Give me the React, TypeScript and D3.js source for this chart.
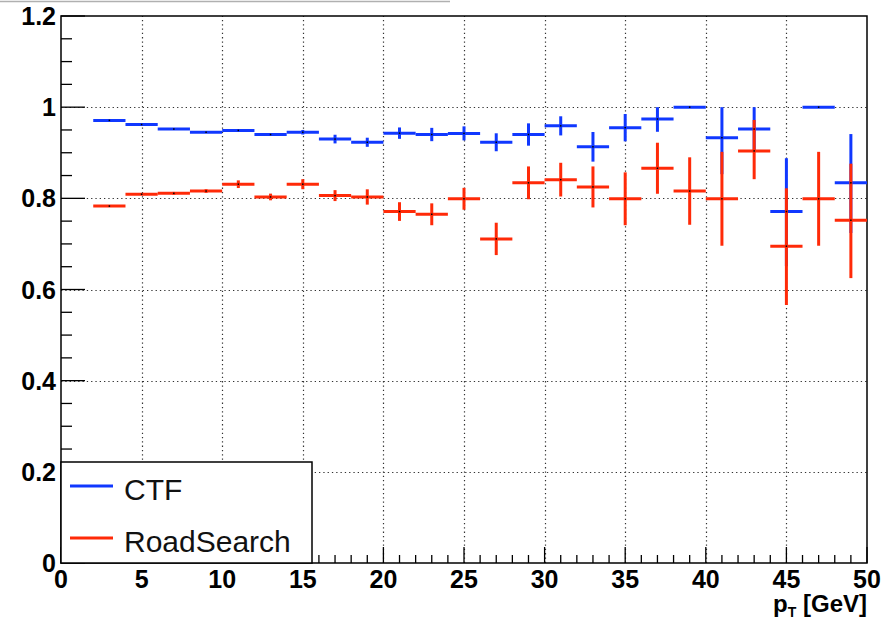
import React, { useRef, useEffect } from "react";
import * as d3 from "d3";

const W = 896;
const H = 621;
const plot = { left: 61, right: 867, top: 16, bottom: 563 };

// bin centres (bin width 2 GeV)
const binCenters = [3, 5, 7, 9, 11, 13, 15, 17, 19, 21, 23, 25, 27, 29, 31, 33, 35, 37, 39, 41, 43, 45, 47, 49];
const binHalfWidth = 1;

const ctfValues = [0.971, 0.962, 0.952, 0.945, 0.949, 0.94, 0.945, 0.93, 0.923, 0.943, 0.94, 0.9425, 0.923, 0.94, 0.959, 0.913, 0.955, 0.974, 1.0, 0.933, 0.952, 0.771, 1.0, 0.834];
const ctfErrUp = [0.001, 0.001, 0.001, 0.001, 0.003, 0.003, 0.005, 0.0095, 0.01, 0.0125, 0.0146, 0.0154, 0.0197, 0.0245, 0.021, 0.0325, 0.03, 0.026, 0, 0.067, 0.048, 0.117, 0, 0.107];
const ctfErrDown = [0.001, 0.001, 0.001, 0.001, 0.003, 0.003, 0.005, 0.0095, 0.01, 0.0125, 0.0146, 0.0154, 0.0197, 0.0245, 0.021, 0.0325, 0.03, 0.028, 0, 0.08, 0.05, 0.12, 0, 0.11];

const rsValues = [0.783, 0.809, 0.811, 0.816, 0.831, 0.803, 0.831, 0.806, 0.803, 0.771, 0.765, 0.799, 0.711, 0.834, 0.841, 0.825, 0.799, 0.866, 0.816, 0.799, 0.904, 0.695, 0.799, 0.752];
const rsErrUp = [0.001, 0.001, 0.003, 0.004, 0.0084, 0.0073, 0.011, 0.012, 0.0168, 0.0205, 0.024, 0.024, 0.0355, 0.036, 0.037, 0.045, 0.058, 0.056, 0.074, 0.103, 0.068, 0.127, 0.103, 0.124];
const rsErrDown = [0.001, 0.001, 0.003, 0.004, 0.0084, 0.0073, 0.011, 0.012, 0.0168, 0.0205, 0.024, 0.024, 0.0355, 0.036, 0.037, 0.045, 0.058, 0.056, 0.074, 0.103, 0.062, 0.129, 0.103, 0.127];

const xTicks = [0, 5, 10, 15, 20, 25, 30, 35, 40, 45, 50];
const yTicks = [0, 0.2, 0.4, 0.6, 0.8, 1, 1.2];
const yTickLabels = ["0", "0.2", "0.4", "0.6", "0.8", "1", "1.2"];

const series = [
  { name: "CTF", color: "#1038ff", values: ctfValues, up: ctfErrUp, down: ctfErrDown },
  { name: "RoadSearch", color: "#ff2a08", values: rsValues, up: rsErrUp, down: rsErrDown },
];

const font = "'Liberation Sans', Arial, sans-serif";

function draw(el: SVGSVGElement) {
  const svg = d3.select(el);
  svg.selectAll("*").remove();

  const x = d3.scaleLinear().domain([0, 50]).range([plot.left, plot.right]);
  const y = d3.scaleLinear().domain([0, 1.2]).range([plot.bottom, plot.top]);

  svg.append("rect").attr("width", W).attr("height", H).attr("fill", "white");

  // thin grey line left over from the title pad
  svg.append("line")
    .attr("x1", 0).attr("x2", 450).attr("y1", 1.5).attr("y2", 1.5)
    .attr("stroke", "#b0b0b0").attr("stroke-width", 1.5);

  // dotted grid
  const grid = svg.append("g")
    .attr("stroke", "#333")
    .attr("stroke-width", 1.2)
    .attr("stroke-dasharray", "1.3,3");
  grid.selectAll("line.gx")
    .data(xTicks.filter((t) => t > 0 && t < 50))
    .enter().append("line")
    .attr("x1", (d) => Math.round(x(d)) + 0.5).attr("x2", (d) => Math.round(x(d)) + 0.5)
    .attr("y1", plot.bottom).attr("y2", plot.top);
  grid.selectAll("line.gy")
    .data(yTicks.filter((t) => t > 0 && t < 1.2))
    .enter().append("line")
    .attr("y1", (d) => Math.round(y(d)) + 0.5).attr("y2", (d) => Math.round(y(d)) + 0.5)
    .attr("x1", plot.left).attr("x2", plot.right);

  // frame
  svg.append("rect")
    .attr("x", plot.left).attr("y", plot.top)
    .attr("width", plot.right - plot.left).attr("height", plot.bottom - plot.top)
    .attr("fill", "none").attr("stroke", "#000").attr("stroke-width", 1.5);

  // ticks
  const ticks = svg.append("g").attr("stroke", "#000").attr("stroke-width", 1.3);
  const yMinor = d3.range(0, 1.2001, 0.05);
  ticks.selectAll("line.yt")
    .data(yMinor)
    .enter().append("line")
    .attr("x1", plot.left)
    .attr("x2", (d) => plot.left + (Math.abs(d / 0.2 - Math.round(d / 0.2)) < 1e-6 ? 24 : 11))
    .attr("y1", (d) => y(d)).attr("y2", (d) => y(d));
  const xMinor = d3.range(0, 50.001, 1);
  ticks.selectAll("line.xt")
    .data(xMinor)
    .enter().append("line")
    .attr("x1", (d) => x(d)).attr("x2", (d) => x(d))
    .attr("y1", plot.bottom)
    .attr("y2", (d) => plot.bottom - (d % 5 === 0 ? 16 : 8));

  // tick labels
  svg.append("g")
    .selectAll("text")
    .data(yTicks)
    .enter().append("text")
    .attr("x", 56).attr("y", (d) => y(d) + 9)
    .attr("text-anchor", "end")
    .attr("font-family", font).attr("font-weight", "bold").attr("font-size", 25)
    .text((d, i) => yTickLabels[i]);
  svg.append("g")
    .selectAll("text")
    .data(xTicks)
    .enter().append("text")
    .attr("x", (d) => x(d)).attr("y", 588)
    .attr("text-anchor", "middle")
    .attr("font-family", font).attr("font-weight", "bold").attr("font-size", 25)
    .text((d) => String(d));

  // axis title
  const title = svg.append("text")
    .attr("x", plot.right).attr("y", 612)
    .attr("text-anchor", "end")
    .attr("font-family", font).attr("font-weight", "bold").attr("font-size", 24);
  title.append("tspan").text("p");
  title.append("tspan").attr("font-size", 14).attr("dy", 5).text("T");
  title.append("tspan").attr("dy", -5).text(" [GeV]");

  // error crosses
  series.forEach((s) => {
    const g = svg.append("g").attr("stroke", s.color).attr("stroke-width", 3);
    binCenters.forEach((c, i) => {
      const v = s.values[i];
      g.append("line")
        .attr("x1", x(c - binHalfWidth)).attr("x2", x(c + binHalfWidth))
        .attr("y1", y(v)).attr("y2", y(v));
      if (s.up[i] + s.down[i] > 0.004) {
        g.append("line")
          .attr("x1", x(c)).attr("x2", x(c))
          .attr("y1", y(v + s.up[i])).attr("y2", y(v - s.down[i]));
      }
    });
  });
  // tiny markers
  series.forEach((s) => {
    svg.append("g")
      .selectAll("rect")
      .data(binCenters)
      .enter().append("rect")
      .attr("x", (d) => x(d) - 0.75)
      .attr("y", (d, i) => y(s.values[i]) - 0.75)
      .attr("width", 1.5).attr("height", 1.5)
      .attr("fill", "#000");
  });

  // legend
  const leg = svg.append("g");
  leg.append("rect")
    .attr("x", plot.left).attr("y", 462)
    .attr("width", 312 - plot.left).attr("height", plot.bottom - 462)
    .attr("fill", "white").attr("stroke", "#000").attr("stroke-width", 1.5);
  series.forEach((s, i) => {
    const ly = 486 + i * 52;
    leg.append("line")
      .attr("x1", 70).attr("x2", 113).attr("y1", ly).attr("y2", ly)
      .attr("stroke", s.color).attr("stroke-width", 3);
    leg.append("text")
      .attr("x", 124).attr("y", ly + 14)
      .attr("font-family", font).attr("font-size", 30)
      .attr("fill", "#111")
      .text(s.name);
  });
}

export default function App() {
  const ref = useRef<SVGSVGElement>(null);
  useEffect(() => {
    if (ref.current) draw(ref.current);
  }, []);
  return (
    <svg
      ref={ref}
      width={W}
      height={H}
      style={{ position: "absolute", left: 0, top: 0, display: "block" }}
    />
  );
}
